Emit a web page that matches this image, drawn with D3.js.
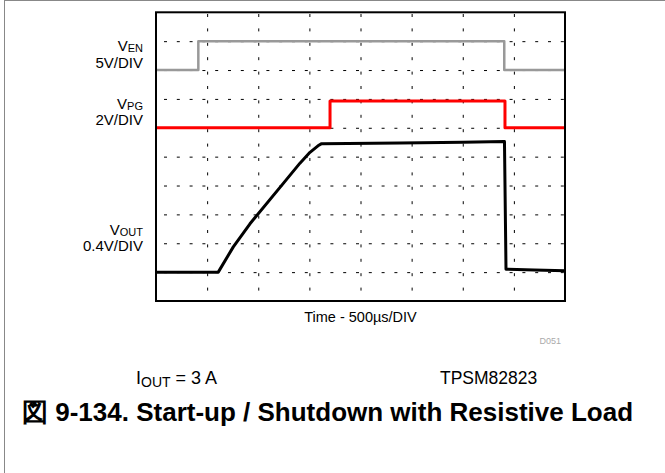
<!DOCTYPE html>
<html>
<head>
<meta charset="utf-8">
<script src="https://cdn.jsdelivr.net/npm/d3@7"></script>
<style>
  body { margin: 0; background: #fff; }
  text { font-family: "Liberation Sans", Arial, sans-serif; }
</style>
</head>
<body>
<div id="chart"></div>
<script>
// Scope settings: time in µs, 500µs/DIV over 8 divisions, 10 vertical divisions
const timeTicks = [0, 500, 1000, 1500, 2000, 2500, 3000, 3500, 4000];
const divTicks = [0, 1, 2, 3, 4, 5, 6, 7, 8, 9, 10];

// V_EN, 5V/DIV, ground at division 8
const enTime = [0, 414, 414, 3406, 3406, 4000];
const enVolt = [0, 0, 5, 5, 0, 0];

// V_PG, 2V/DIV, ground at division 6
const pgTime = [0, 1702, 1702, 3413, 3413, 4000];
const pgVolt = [0, 0, 1.86, 1.86, 0, 0];

// V_OUT, 0.4V/DIV, ground at division 1
const outTime = [0, 609, 756, 919, 1245, 1408, 1506, 1584, 1620, 2386, 3000, 3408, 3423, 3700, 4000];
const outVolt = [0, 0, 0.35, 0.67, 1.23, 1.51, 1.66, 1.75, 1.78, 1.79, 1.80, 1.81, 0.04, 0.03, 0.02];

const channels = [
    {name: "EN", scale: "5V/DIV", offset: 8, perDiv: 5, t: enTime, v: enVolt, color: "#999999", width: 2.5},
    {name: "PG", scale: "2V/DIV", offset: 6, perDiv: 2, t: pgTime, v: pgVolt, color: "#ff0000", width: 3},
    {name: "OUT", scale: "0.4V/DIV", offset: 1, perDiv: 0.4, t: outTime, v: outVolt, color: "#000000", width: 3}
];

const width = 665, height = 473;
const plot = {left: 156, right: 565, top: 12.3, bottom: 301};

const svg = d3.select("#chart")
    .append("svg")
    .attr("width", width)
    .attr("height", height);

// outer frame (only left and top edges show)
svg.append("rect")
    .attr("x", 4.5).attr("y", 0.5)
    .attr("width", 700).attr("height", 500)
    .attr("fill", "none")
    .attr("stroke", "#888")
    .attr("stroke-width", 1);

const xScale = d3.scaleLinear()
    .domain([0, 4000])
    .range([plot.left, plot.right]);

const yScale = d3.scaleLinear()
    .domain([0, 10])
    .range([plot.bottom, plot.top]);

// dashed grid
svg.append("g")
    .attr("transform", `translate(0,${plot.bottom})`)
    .call(d3.axisBottom(xScale).tickValues(timeTicks.slice(1, -1))
        .tickSize(-(plot.bottom - plot.top)).tickFormat(""))
    .call(g => g.select(".domain").remove())
    .call(g => g.selectAll("line")
        .attr("stroke", "#000")
        .attr("stroke-dasharray", "3,11.4")
        .attr("stroke-dashoffset", 4));

svg.append("g")
    .attr("transform", `translate(${plot.left},0)`)
    .call(d3.axisLeft(yScale).tickValues(divTicks.slice(1, -1))
        .tickSize(-(plot.right - plot.left)).tickFormat(""))
    .call(g => g.select(".domain").remove())
    .call(g => g.selectAll("line")
        .attr("stroke", "#000")
        .attr("stroke-dasharray", "3,9.8")
        .attr("stroke-dashoffset", -8));

// traces
channels.forEach(ch => {
    const pts = ch.t.map((t, i) => [t, ch.offset + ch.v[i] / ch.perDiv]);
    const line = d3.line()
        .x(d => xScale(d[0]))
        .y(d => yScale(d[1]));
    svg.append("path")
        .attr("d", line(pts))
        .attr("fill", "none")
        .attr("stroke", ch.color)
        .attr("stroke-width", ch.width)
        .attr("stroke-linejoin", "round");
});

// plot frame
svg.append("rect")
    .attr("x", plot.left).attr("y", plot.top)
    .attr("width", plot.right - plot.left)
    .attr("height", plot.bottom - plot.top)
    .attr("fill", "none")
    .attr("stroke", "#000")
    .attr("stroke-width", 2);

// channel labels
const labelY = {EN: [51, 68], PG: [109, 125], OUT: [235, 251]};
channels.forEach(ch => {
    const t = svg.append("text")
        .attr("x", 143)
        .attr("y", labelY[ch.name][0])
        .attr("text-anchor", "end")
        .style("font-size", "15px");
    t.append("tspan").text("V");
    t.append("tspan").text(ch.name)
        .style("font-size", "11px")
        .attr("dy", 1);
    svg.append("text")
        .attr("x", 143)
        .attr("y", labelY[ch.name][1])
        .attr("text-anchor", "end")
        .style("font-size", "15px")
        .text(ch.scale);
});

// time label
svg.append("text")
    .attr("x", (plot.left + plot.right) / 2)
    .attr("y", 322)
    .attr("text-anchor", "middle")
    .style("font-size", "14.5px")
    .text("Time - 500µs/DIV");

svg.append("text")
    .attr("x", 561)
    .attr("y", 344)
    .attr("text-anchor", "end")
    .style("font-size", "9px")
    .attr("fill", "#aaa")
    .text("D051");

// condition and part number
const iout = svg.append("text")
    .attr("x", 136)
    .attr("y", 384)
    .style("font-size", "18px");
iout.append("tspan").text("I");
iout.append("tspan").text("OUT").style("font-size", "14px").attr("dy", 3);
iout.append("tspan").text(" = 3 A").attr("dy", -3);

svg.append("text")
    .attr("x", 440)
    .attr("y", 384)
    .style("font-size", "17.5px")
    .text("TPSM82823");

// caption
svg.append("text")
    .attr("x", 22)
    .attr("y", 421)
    .style("font-size", "26px")
    .style("font-weight", "bold")
    .text("図 9-134. Start-up / Shutdown with Resistive Load");
</script>
</body>
</html>
